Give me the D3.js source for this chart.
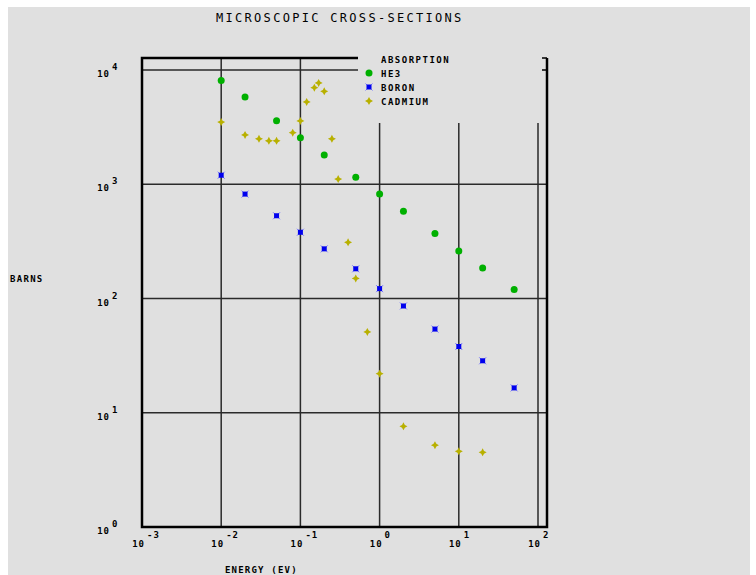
<!DOCTYPE html>
<html>
<head>
<meta charset="utf-8">
<script src="https://cdn.jsdelivr.net/npm/d3@7"></script>
<style>
  body { margin: 0; background: #fff; }
  text { font-family: "DejaVu Sans Mono", monospace; fill: #000; }
</style>
</head>
<body>
<div id="chart"></div>
<script>
// energies (eV) and absorption cross-sections (barns)
var he3Energy = [0.01, 0.02, 0.05, 0.1, 0.2, 0.5, 1, 2, 5, 10, 20, 50]
var he3Barns = [8100, 5800, 3600, 2550, 1800, 1150, 820, 580, 370, 260, 185, 120]

var boronEnergy = [0.01, 0.02, 0.05, 0.1, 0.2, 0.5, 1, 2, 5, 10, 20, 50]
var boronBarns = [1200, 820, 530, 380, 272, 182, 122, 86, 54, 38, 28.5, 16.5]

var cadmiumEnergy = [0.01, 0.02, 0.03, 0.04, 0.05, 0.08, 0.1, 0.12, 0.15, 0.17, 0.2, 0.25, 0.3, 0.4, 0.5, 0.7, 1, 2, 5, 10, 20]
var cadmiumBarns = [3500, 2700, 2500, 2400, 2400, 2830, 3580, 5250, 7000, 7700, 6500, 2500, 1110, 310, 150, 51, 22, 7.6, 5.2, 4.6, 4.5]

var xTicks = [-3, -2, -1, 0, 1, 2]
var yTicks = [0, 1, 2, 3, 4]
var legendNames = ["HE3", "BORON", "CADMIUM"]

var svg = d3.select("#chart")
    .append("svg")
    .attr("width", 756)
    .attr("height", 575)

svg.append("rect")
    .attr("x", 8).attr("y", 7)
    .attr("width", 742).attr("height", 568)
    .style("fill", "#e0e0e0")

var x = d3.scaleLog().domain([1e-3, 1e2]).range([142, 538])
var y = d3.scaleLog().domain([1, 1e4]).range([527, 70])

var frameTop = 58, frameRight = 547, legendLeft = 358, legendBottom = 123

// gridlines
var grid = svg.append("g").attr("class", "grid")
    .style("stroke", "#2a2a2a").style("stroke-width", 1.5)

grid.selectAll("line.v")
    .data(xTicks.slice(1))
    .enter()
    .append("line")
    .attr("x1", function (d) { return x(Math.pow(10, d)) })
    .attr("x2", function (d) { return x(Math.pow(10, d)) })
    .attr("y1", function (d) { return x(Math.pow(10, d)) < legendLeft ? frameTop : legendBottom })
    .attr("y2", y(1))

grid.selectAll("line.h")
    .data(yTicks.slice(1))
    .enter()
    .append("line")
    .attr("x1", x(1e-3))
    .attr("x2", function (d) { return d == 4 ? legendLeft : frameRight })
    .attr("y1", function (d) { return y(Math.pow(10, d)) })
    .attr("y2", function (d) { return y(Math.pow(10, d)) })

// frame
var frame = svg.append("g").attr("class", "frame")
    .style("stroke", "#000").style("stroke-width", 2.5).style("fill", "none")
frame.append("path")
    .attr("d", "M" + legendLeft + "," + frameTop + "H" + x(1e-3) + "V" + y(1) + "H" + frameRight + "V" + frameTop)
frame.append("path")
    .attr("d", "M" + (frameRight - 5) + "," + frameTop + "H" + frameRight)
    .style("stroke-width", 1.5)
frame.append("path")
    .attr("d", "M" + (frameRight - 5) + "," + 70 + "H" + frameRight)
    .style("stroke-width", 1.5)

// tick labels
var xLab = svg.append("g").attr("class", "xlabels")
    .style("font-size", "9px").style("font-weight", "bold")
xTicks.forEach(function (e) {
    var px = x(Math.pow(10, e))
    xLab.append("text").attr("x", px + 3).attr("y", 547)
        .attr("text-anchor", "end").style("letter-spacing", "1px")
        .text("10")
    xLab.append("text").attr("x", px + 5).attr("y", 538)
        .style("letter-spacing", "1px")
        .text(e)
})

var yLab = svg.append("g").attr("class", "ylabels")
    .style("font-size", "9px").style("font-weight", "bold")
yTicks.forEach(function (e) {
    var py = y(Math.pow(10, e))
    yLab.append("text").attr("x", 110).attr("y", py + 7)
        .attr("text-anchor", "end").style("letter-spacing", "1px")
        .text("10")
    yLab.append("text").attr("x", 112).attr("y", py)
        .text(e)
})

// titles
svg.append("text").attr("x", 216).attr("y", 22)
    .style("font-size", "12px").style("letter-spacing", "2.3px")
    .text("MICROSCOPIC CROSS-SECTIONS")
svg.append("text").attr("x", 10).attr("y", 282)
    .style("font-size", "9px").style("font-weight", "bold").style("letter-spacing", "1.3px")
    .text("BARNS")
svg.append("text").attr("x", 225).attr("y", 573)
    .style("font-size", "9px").style("font-weight", "bold").style("letter-spacing", "1.2px")
    .text("ENERGY (EV)")

// markers
var star = "M0,-4L1.4,-1.4L4,0L1.4,1.4L0,4L-1.4,1.4L-4,0L-1.4,-1.4Z"

function drawHe3(g) {
    g.append("circle").attr("r", 3.5).style("fill", "#00b000")
}
function drawBoron(g) {
    g.append("path").attr("d", "M-3.5,-3.5L3.5,3.5M-3.5,3.5L3.5,-3.5")
        .style("stroke", "#7a7aff").style("stroke-width", 1)
    g.append("rect").attr("x", -2.5).attr("y", -2.5).attr("width", 5).attr("height", 5)
        .style("fill", "#0000ee")
}
function drawCadmium(g) {
    g.append("path").attr("d", star).style("fill", "#b8b000")
}

var series = [
    { e: he3Energy, b: he3Barns, draw: drawHe3 },
    { e: boronEnergy, b: boronBarns, draw: drawBoron },
    { e: cadmiumEnergy, b: cadmiumBarns, draw: drawCadmium }
]

series.forEach(function (s) {
    var pts = s.e.map(function (d, i) { return [d, s.b[i]] })
    svg.append("g").selectAll("g")
        .data(pts)
        .enter()
        .append("g")
        .attr("transform", function (d) { return "translate(" + x(d[0]) + "," + y(d[1]) + ")" })
        .each(function () { s.draw(d3.select(this)) })
})

// legend
var legend = svg.append("g").attr("class", "legend")
    .style("font-size", "9px").style("font-weight", "bold")
legend.append("text").attr("x", 381).attr("y", 63)
    .style("letter-spacing", "1.5px")
    .text("ABSORPTION")
legendNames.forEach(function (name, i) {
    var ly = 73 + i * 14
    var g = legend.append("g").attr("transform", "translate(369," + ly + ")")
    series[i].draw(g)
    legend.append("text").attr("x", 381).attr("y", ly + 3.5)
        .style("letter-spacing", "1.5px")
        .text(name)
})
</script>
</body>
</html>
